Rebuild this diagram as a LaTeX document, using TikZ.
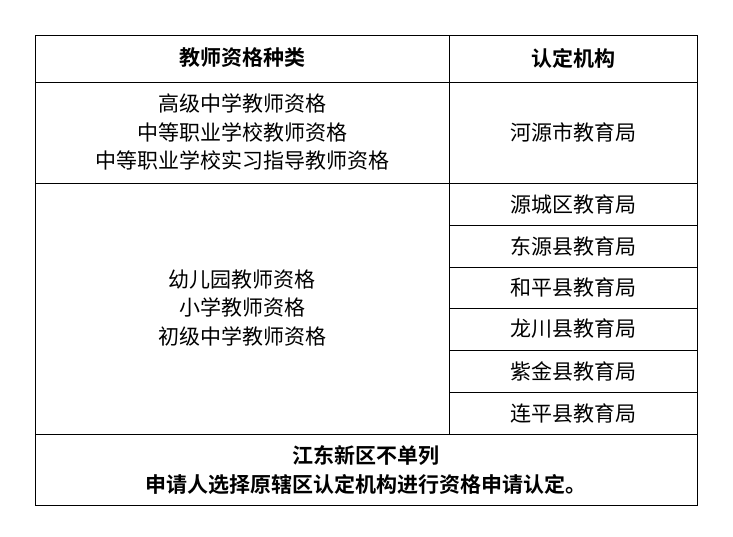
\documentclass[tikz,border=0pt]{standalone}
\usepackage{fontspec}
\setmainfont{Noto Sans CJK SC}
\newfontfamily\cjkb{Noto Sans CJK SC Bold}
\begin{document}
\begin{tikzpicture}[x=1pt,y=-1pt,
  cell/.style={align=center,font=\fontsize{21}{28.5}\selectfont},
  hcell/.style={align=center,font=\cjkb\fontsize{21}{28.5}\selectfont}]
\useasboundingbox (0,0) rectangle (733,536);
\fill[white] (0,0) rectangle (733,536);
\draw[line width=1pt] (35,35) rectangle (697,505);
\draw[line width=1pt] (449,35) -- (449,434);
\foreach \y in {82,183,434} \draw[line width=1pt] (35,\y) -- (697,\y);
\foreach \y in {225,267,308,350,392} \draw[line width=1pt] (449,\y) -- (697,\y);
\node[hcell] (h1) at (242,58) {教师资格种类};
\node[hcell] (h2) at (573,58) {认定机构};
\node[cell] (l1) at (242,132) {高级中学教师资格\\中等职业学校教师资格\\中等职业学校实习指导教师资格};
\node[cell] (r1) at (573,132) {河源市教育局};
\node[cell] (l2) at (242,308) {幼儿园教师资格\\小学教师资格\\初级中学教师资格};
\node[cell] (r2) at (573,204) {源城区教育局};
\node[cell] (r3) at (573,246) {东源县教育局};
\node[cell] (r4) at (573,287) {和平县教育局};
\node[cell] (r5) at (573,329) {龙川县教育局};
\node[cell] (r6) at (573,371) {紫金县教育局};
\node[cell] (r7) at (573,413) {连平县教育局};
\node[hcell] (f) at (366,470) {江东新区不单列\\申请人选择原辖区认定机构进行资格申请认定。};
\end{tikzpicture}
\end{document}
